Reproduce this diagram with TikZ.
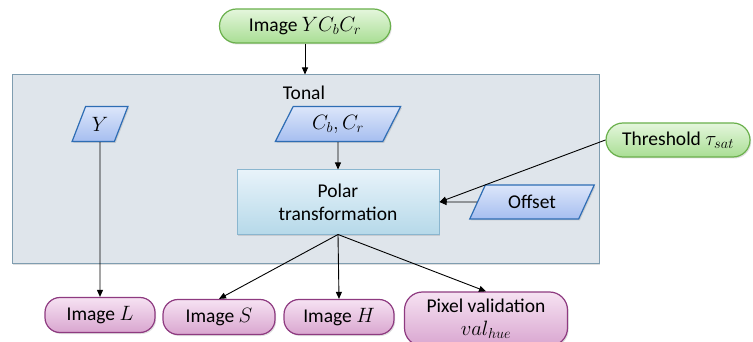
\documentclass[tikz,border=0pt]{standalone}
\usepackage{fontspec}
\setmainfont{Carlito}
\DeclareMathSizes{19.5}{19.5}{15}{12}
\usetikzlibrary{shapes.geometric,shapes.misc,arrows.meta,shadows}
\definecolor{gborder}{HTML}{6AB04C}
\definecolor{gtop}{HTML}{E4F6DC}
\definecolor{gbot}{HTML}{A9DE94}
\definecolor{bborder}{HTML}{2E6DB4}
\definecolor{btop}{HTML}{DCE6FA}
\definecolor{bbot}{HTML}{A6BEF0}
\definecolor{pborder}{HTML}{8AB6CF}
\definecolor{ptop}{HTML}{E8F3FA}
\definecolor{pbot}{HTML}{B6D9E9}
\definecolor{tfill}{HTML}{DFE5EB}
\definecolor{tborder}{HTML}{7F9DB0}
\definecolor{uborder}{HTML}{8E3A80}
\definecolor{utop}{HTML}{F6E2F2}
\definecolor{ubot}{HTML}{D9A6D0}
\tikzset{
  shad/.style={drop shadow={opacity=0.25,shadow xshift=1.2pt,shadow yshift=-1.5pt}},
  term/.style={rounded rectangle, draw=gborder, line width=1.2pt, top color=gtop, bottom color=gbot, minimum height=34pt, inner sep=2pt, shad},
  iobox/.style={trapezium, trapezium left angle=62, trapezium right angle=118, trapezium stretches=true, draw=bborder, line width=1.2pt, top color=btop, bottom color=bbot, minimum height=35pt, inner sep=1pt, shad},
  proc/.style={rectangle, draw=pborder, line width=1pt, top color=ptop, bottom color=pbot, align=center, shad},
  outbox/.style={rectangle, rounded corners=15pt, draw=uborder, line width=1.2pt, top color=utop, bottom color=ubot, minimum height=35pt, inner sep=2pt, shad},
  arr/.style={-{Triangle[length=7pt,width=6pt]}, line width=0.9pt, black}
}
\begin{document}
\begin{tikzpicture}[x=1pt,y=-1pt,font=\fontsize{19.5}{23}\selectfont]
\useasboundingbox (0,0) rectangle (753,342);
\node[draw=tborder, fill=tfill, line width=1pt, minimum width=587pt, minimum height=188pt, inner sep=0pt, shad] (tonal) at (305.5,169) {};
\node (tonallbl) at (304,93) {Tonal};
\node[term, minimum width=175pt] (ycc) at (305,26) {Image $YC_bC_r$};
\node[iobox, minimum width=56pt] (y) at (100,124) {$Y$};
\node[iobox, minimum width=126pt] (cbcr) at (338,124) {$C_b, C_r$};
\node[proc, minimum width=202pt, minimum height=64pt] (polar) at (338,202) {Polar\\transformation};
\node[term, minimum width=148pt] (thr) at (678,140) {Threshold $\tau_{sat}$};
\node[iobox, minimum width=125pt, minimum height=34pt] (off) at (532,202) {Offset};
\node[outbox, minimum width=110pt] (imL) at (100,315) {Image $L$};
\node[outbox, minimum width=112pt] (imS) at (219,317) {Image $S$};
\node[outbox, minimum width=110pt] (imH) at (339,317) {Image $H$};
\node[outbox, minimum width=163pt, minimum height=54pt, align=center, rounded corners=18pt, font=\fontsize{19.5}{23}\selectfont] (pv) at (486,319) {Pixel validation\\$val_{hue}$};
\draw[arr] (ycc.south) -- (ycc.south |- tonal.north);
\draw[arr] (cbcr) -- (polar);
\draw[arr] (thr.west) -- (polar.east);
\draw[arr] (off) -- (polar.east);
\draw[arr] (y.south) -- (imL.north);
\draw[arr] (polar.south) -- (imS.north);
\draw[arr] (polar.south) -- (imH.north);
\draw[arr] (polar.south) -- (pv.north);
\end{tikzpicture}
\end{document}
